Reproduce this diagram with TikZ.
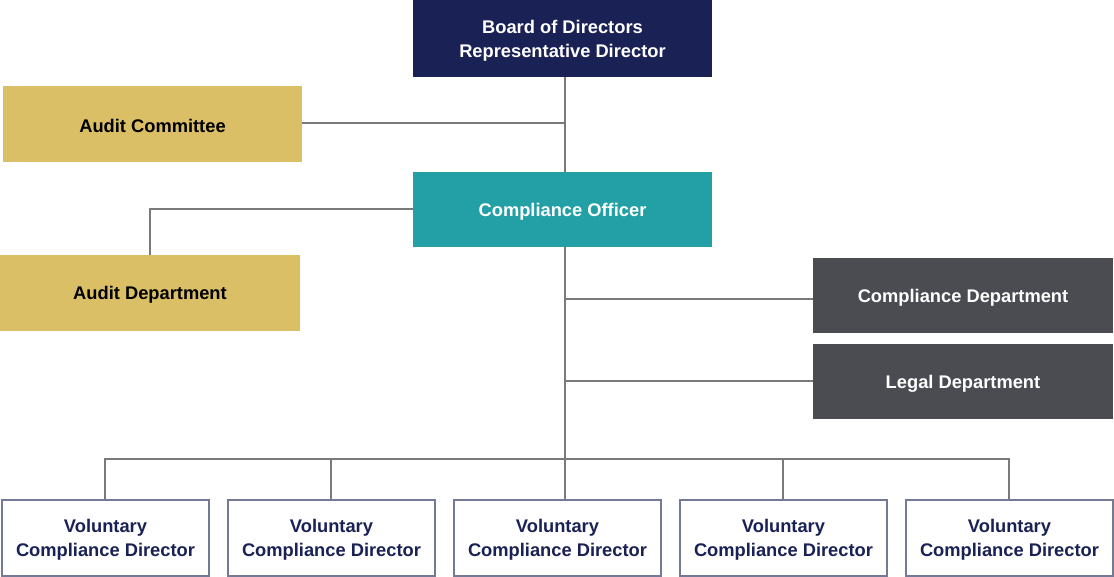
\documentclass[tikz,border=0pt]{standalone}
\usepackage{fontspec}
\setmainfont{Liberation Sans}
\definecolor{navy}{HTML}{1A2155}
\definecolor{gold}{HTML}{DBBF67}
\definecolor{teal}{HTML}{23A0A6}
\definecolor{slate}{HTML}{4B4C52}
\definecolor{frame}{HTML}{747996}
\definecolor{link}{HTML}{7A7A7A}
\begin{document}
\begin{tikzpicture}[x=1pt,y=-1pt,
  box/.style={inner sep=0pt,align=center,yshift=-2pt,font=\fontsize{18.3}{24}\selectfont\bfseries},
  con/.style={draw=link,line width=1.2pt}]
\useasboundingbox (0,0) rectangle (1114,577);
\fill[navy] (413,0) rectangle (712,77);
\node[box,text=white] (board) at (562.5,38.5) {Board of Directors\\Representative Director};
\coordinate (boardS) at (565,77);
\fill[gold] (3,86) rectangle (302,162);
\node[box,text=black] (ac) at (152.5,124) {Audit Committee};
\coordinate (acE) at (302,123);
\fill[teal] (413,172) rectangle (712,247);
\node[box,text=white] (co) at (562.5,209.5) {Compliance Officer};
\coordinate (coN) at (565,172);
\coordinate (coS) at (565,247);
\coordinate (coW) at (413,209);
\fill[gold] (0,255) rectangle (300,331);
\node[box,text=black] (ad) at (150,293) {Audit Department};
\coordinate (adN) at (150,255);
\fill[slate] (813,258) rectangle (1113,333);
\node[box,text=white] (cd) at (963,295.5) {Compliance Department};
\coordinate (cdW) at (813,299);
\fill[slate] (813,344) rectangle (1113,419);
\node[box,text=white] (ld) at (963,381.5) {Legal Department};
\coordinate (ldW) at (813,381);
\foreach \i/\x in {1/1,2/227,3/453,4/679,5/905}{
  \draw[frame,line width=2pt,fill=white] (\x+1,500) rectangle (\x+208,576);
  \node[box,text=navy] (v\i) at (\x+104.5,538) {Voluntary\\Compliance Director};
}
\coordinate (v1N) at (105,499);
\coordinate (v2N) at (331,499);
\coordinate (v3N) at (565,499);
\coordinate (v4N) at (783,499);
\coordinate (v5N) at (1009,499);
\coordinate (busM) at (565,459);
\draw[con] (boardS) -- (coN);
\draw[con] (acE) -- (565,123);
\draw[con] (coW) -| (adN);
\draw[con] (coS) -- (v3N);
\draw[con] (565,299) -- (cdW);
\draw[con] (565,381) -- (ldW);
\draw[con] (v1N) |- (busM) -| (v5N);
\draw[con] (v2N) -- (331,459);
\draw[con] (v4N) -- (783,459);
\end{tikzpicture}
\end{document}
